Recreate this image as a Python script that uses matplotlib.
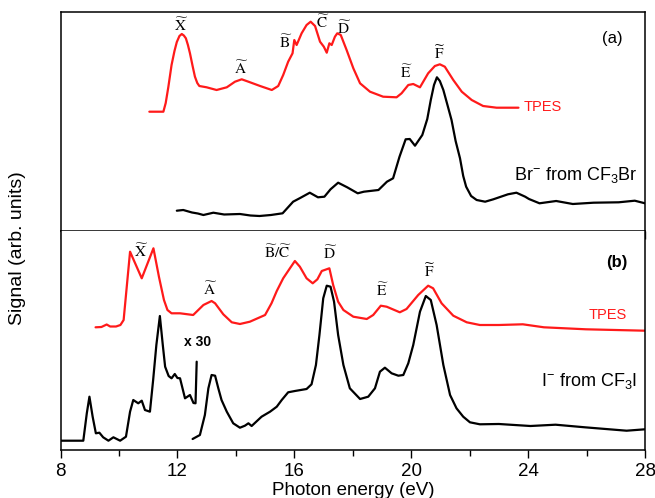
import matplotlib
matplotlib.use("Agg")
import matplotlib.pyplot as plt
from matplotlib.ticker import MultipleLocator

plt.rcParams['font.family'] = ['Liberation Sans', 'DejaVu Sans']
plt.rcParams['mathtext.fontset'] = 'custom'
plt.rcParams['mathtext.rm'] = 'Liberation Sans'
plt.rcParams['mathtext.it'] = 'Liberation Sans:italic'
plt.rcParams['mathtext.bf'] = 'Liberation Sans:bold'

# ---------------- data (photon energy in eV, signal in arb. units) ----------------
tpes_a_energy = [11.04, 11.52, 11.60, 11.69, 11.80, 11.90, 11.98, 12.07, 12.15, 12.22, 12.29,
                 12.36, 12.43, 12.52, 12.60, 12.68, 12.75, 13.00, 13.34, 13.69, 13.97, 14.20,
                 14.43, 14.83, 15.23, 15.45, 15.62, 15.79, 15.94, 16.00, 16.08, 16.25, 16.42,
                 16.56, 16.71, 16.88, 17.01, 17.11, 17.20, 17.28, 17.39, 17.47, 17.59, 17.79,
                 18.02, 18.25, 18.59, 19.04, 19.50, 19.67, 19.90, 20.07, 20.30, 20.58, 20.81,
                 20.98, 21.15, 21.44, 21.73, 22.07, 22.46, 22.92, 23.67]
tpes_a_signal = [119.3, 119.3, 128.0, 144.0, 166.0, 180.0, 189.0, 195.0, 197.0, 195.5, 192.7,
                 186.0, 177.7, 165.0, 154.3, 148.0, 145.0, 143.7, 141.0, 143.7, 149.3, 151.7,
                 149.3, 145.0, 141.0, 145.0, 156.0, 169.3, 177.7, 191.0, 186.0, 197.7, 206.0,
                 209.3, 205.0, 189.3, 184.3, 178.3, 187.7, 186.0, 194.3, 197.7, 196.0, 181.0,
                 162.7, 147.7, 139.3, 134.3, 133.7, 137.7, 146.0, 147.0, 143.7, 157.7, 165.0,
                 166.7, 164.3, 151.0, 139.3, 131.0, 125.0, 123.3, 123.3]

br_energy = [11.98, 12.20, 12.50, 12.70, 12.89, 13.23, 13.60, 14.14, 14.50, 14.81, 15.20, 15.60,
             15.96, 16.20, 16.53, 16.81, 17.03, 17.24, 17.50, 17.81, 18.17, 18.38, 18.88, 19.17,
             19.38, 19.60, 19.81, 19.95, 20.13, 20.38, 20.55, 20.67, 20.78, 20.88, 20.98,
             21.10, 21.25, 21.38, 21.52, 21.67, 21.78, 21.88, 22.05, 22.24, 22.53, 22.81,
             23.31, 23.60, 23.90, 24.03, 24.39, 24.96, 25.53, 26.24, 27.10, 27.65, 28.00]
br_signal = [20.3, 21.0, 18.5, 17.5, 16.0, 18.3, 16.5, 17.0, 15.5, 15.0, 16.0, 17.7,
             29.3, 33.0, 38.3, 33.7, 34.3, 41.7, 48.3, 43.7, 37.7, 39.3, 41.0, 49.3,
             52.7, 74.3, 91.7, 92.0, 85.3, 96.0, 112.0, 131.0, 146.0, 153.7, 150.0,
             141.0, 125.0, 111.0, 90.0, 72.7, 55.0, 44.3, 35.0, 31.0, 29.3, 31.7,
             36.7, 38.3, 34.3, 32.0, 27.7, 30.0, 27.0, 28.3, 28.7, 30.3, 27.7]

tpes_b_energy = [9.20, 9.40, 9.58, 9.70, 9.90, 10.05, 10.16, 10.38, 10.78, 11.18, 11.37, 11.54,
                 11.66, 11.80, 12.09, 12.54, 12.89, 13.17, 13.29, 13.57, 13.86, 14.14, 14.48,
                 15.00, 15.22, 15.40, 15.62, 15.85, 16.02, 16.19, 16.42, 16.63, 16.79, 16.94,
                 17.20, 17.33, 17.50, 17.68, 18.02, 18.48, 18.70, 18.96, 19.16, 19.61, 19.84,
                 20.24, 20.58, 20.75, 21.04, 21.44, 21.90, 22.35, 23.00, 23.82, 24.54, 25.98,
                 28.00]
tpes_b_signal = [122.7, 123.0, 125.5, 123.5, 123.5, 125.0, 130.0, 198.3, 171.7, 201.7, 173.0,
                 150.0, 140.0, 136.7, 136.7, 135.0, 145.0, 149.0, 146.7, 135.7, 127.7, 126.0,
                 128.3, 135.0, 146.7, 159.0, 171.7, 181.7, 189.0, 183.3, 171.7, 166.7, 170.7,
                 179.0, 181.7, 165.0, 148.3, 140.0, 133.3, 131.0, 135.0, 144.3, 143.3, 137.7,
                 141.0, 155.0, 164.3, 161.7, 146.7, 134.3, 127.7, 125.0, 125.0, 125.7, 122.7,
                 120.7, 119.3]

# I- signal below 12.65 eV, magnified x30
i_x30_energy = [8.00, 8.78, 8.90, 8.99, 9.10, 9.21, 9.33, 9.46, 9.64, 9.81, 10.04, 10.24,
                10.38, 10.49, 10.66, 10.78, 10.89, 11.06, 11.17, 11.28, 11.40, 11.50, 11.58,
                11.70, 11.80, 11.91, 12.00, 12.09, 12.26, 12.43, 12.55, 12.62, 12.66]
i_x30_signal = [9.3, 9.3, 36.7, 53.3, 33.3, 16.7, 17.3, 12.7, 9.3, 12.7, 9.3, 13.3,
                38.3, 50.0, 46.7, 49.3, 40.0, 38.3, 70.0, 105.0, 134.0, 105.0, 83.3,
                74.0, 71.7, 76.0, 72.0, 71.7, 51.7, 55.0, 47.0, 46.7, 88.3]

i_energy = [12.52, 12.77, 12.94, 13.06, 13.17, 13.29, 13.40, 13.51, 13.69, 13.91, 14.14, 14.31,
            14.43, 14.54, 14.88, 15.17, 15.40, 15.57, 15.79, 16.02, 16.42, 16.59, 16.74,
            16.86, 16.99, 17.11, 17.24, 17.36, 17.50, 17.68, 17.90, 18.25, 18.53, 18.76,
            18.93, 19.10, 19.33, 19.56, 19.73, 19.90, 20.07, 20.30, 20.50, 20.67, 20.87,
            21.10, 21.33, 21.55, 21.78, 22.01, 22.35, 23.00, 24.08, 24.94, 25.94, 27.37, 28.00]
i_signal = [11.0, 15.0, 35.0, 61.7, 75.0, 74.3, 61.7, 50.0, 38.3, 26.7, 22.3, 24.3,
            26.7, 24.0, 33.3, 38.3, 43.3, 50.0, 57.7, 59.0, 61.0, 65.7, 85.0,
            115.0, 151.7, 164.3, 163.3, 148.3, 115.0, 85.0, 61.7, 51.0, 53.3, 61.7,
            78.3, 82.3, 76.7, 74.3, 75.0, 86.7, 105.0, 138.3, 154.0, 150.0, 125.0,
            85.0, 55.0, 41.7, 33.3, 27.7, 25.7, 26.0, 24.0, 25.3, 22.7, 19.3, 20.7]

xticks = [8, 12, 16, 20, 24, 28]

# ---------------- figure ----------------
W, H = 655, 498
fig = plt.figure(figsize=(W / 100, H / 100), dpi=100)
left = 60.5 / W
width = (645 - 60.5) / W
axa = fig.add_axes([left, 1 - 231 / H, width, (231 - 12) / H])
axb = fig.add_axes([left, 1 - 450 / H, width, (450 - 231) / H], sharex=axa)

red = '#ff1a1a'
lkw = dict(lw=1.6, solid_joinstyle='round', solid_capstyle='round')
axa.plot(tpes_a_energy, tpes_a_signal, color=red, **lkw)
axa.plot(br_energy, br_signal, color='black', **lkw)
axb.plot(tpes_b_energy, tpes_b_signal, color=red, **lkw)
axb.plot(i_x30_energy, i_x30_signal, color='black', **lkw)
axb.plot(i_energy, i_signal, color='black', **lkw)

for ax in (axa, axb):
    ax.set_xlim(8, 28)
    ax.set_ylim(0, 219)
    ax.set_yticks([])
    for s in ax.spines.values():
        s.set_linewidth(1.1)
    ax.xaxis.set_major_locator(MultipleLocator(4))
    ax.xaxis.set_minor_locator(MultipleLocator(2))
    ax.tick_params(axis='x', which='major', direction='out', length=6, width=1.0,
                   labelsize=13.5, pad=3)
    ax.tick_params(axis='x', which='minor', direction='out', length=4, width=1.0)

axa.tick_params(axis='x', labelbottom=False)
axb.spines['top'].set_visible(False)
axb.set_xticks(xticks)
axb.set_xticklabels([str(t) for t in xticks])
axb.set_xlabel('Photon energy (eV)', fontsize=13.5, labelpad=2)
fig.text(18 / W, 1 - 248 / H, 'Signal (arb. units)', rotation=90, fontsize=14,
         ha='center', va='center')

# state labels
tkw = dict(math_fontfamily='stix', fontsize=11, ha='center', va='center')
def tl(ch):
    return r'$\widetilde{\mathrm{%s}}$' % ch

a_labels = [('X', 12.15, 206), ('A', 14.20, 162.5), ('B', 15.70, 188.5), ('C', 16.97, 208.5),
            ('D', 17.71, 202.5), ('E', 19.82, 158.5), ('F', 20.98, 177.5)]
for ch, e, s in a_labels:
    axa.text(e, s, tl(ch), **tkw)

b_labels = [('X', 10.78, 199), ('A', 13.14, 161), ('D', 17.22, 197), ('E', 19.02, 160),
            ('F', 20.64, 179)]
for ch, e, s in b_labels:
    axb.text(e, s, tl(ch), **tkw)
axb.text(15.46, 197.5, r'$\widetilde{\mathrm{B}}/\widetilde{\mathrm{C}}$', **tkw)

axa.text(23.85, 124, 'TPES', color=red, fontsize=10.5, ha='left', va='center')
axb.text(26.73, 135, 'TPES', color=red, fontsize=10.5, ha='center', va='center')
axa.text(27.73, 56, r'Br$^{-}$ from CF$_3$Br', fontsize=13, ha='right', va='center')
axb.text(27.73, 69, r'I$^{-}$ from CF$_3$I', fontsize=13, ha='right', va='center')
axb.text(12.70, 108, 'x 30', fontsize=10, fontweight='bold', ha='center', va='center')
axa.text(26.87, 193, '(a)', fontsize=12, ha='center', va='center')
axb.text(27.04, 188, '(b)', fontsize=12, fontweight='bold', ha='center', va='center')

fig.savefig('out.png', dpi=100)
